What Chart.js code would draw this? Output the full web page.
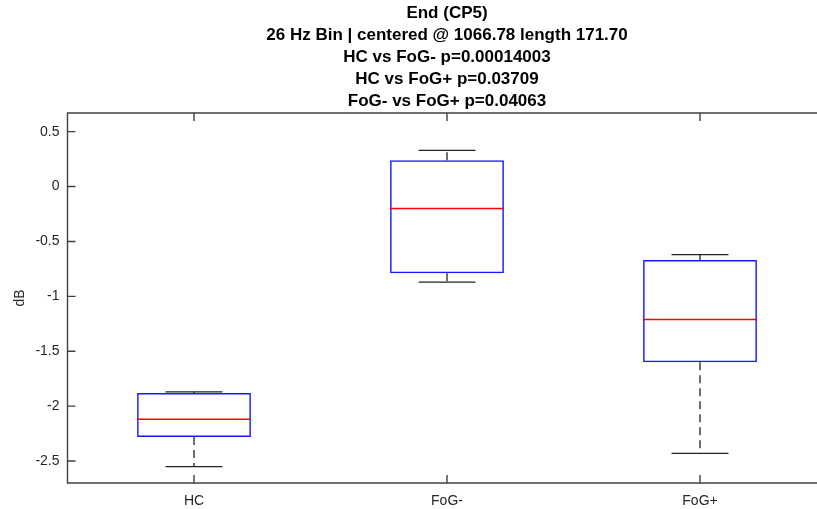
<!DOCTYPE html>
<html>
<head>
<meta charset="utf-8">
<script src="https://cdn.jsdelivr.net/npm/chart.js@4.4.1/dist/chart.umd.min.js"></script>
<style>
  html, body { margin: 0; padding: 0; background: #fff; overflow: hidden; }
  #wrap { width: 894px; height: 509px; }
</style>
</head>
<body>
<div id="wrap"><canvas id="box"></canvas></div>
<script>
const categories = ["HC", "FoG-", "FoG+"];
const q1 = [-2.28, -0.79, -1.60];
const q3 = [-1.88, 0.24, -0.67];
const medians = [-2.12, -0.20, -1.21];
const whiskerLow = [-2.55, -0.87, -2.43];
const whiskerHigh = [-1.87, 0.33, -0.62];
const yTicks = [-2.5, -2, -1.5, -1, -0.5, 0, 0.5];
const titleLines = [
  "End (CP5)",
  "26 Hz Bin | centered @ 1066.78 length 171.70",
  "HC vs FoG- p=0.00014003",
  "HC vs FoG+ p=0.03709",
  "FoG- vs FoG+ p=0.04063"
];

const axisColor = "#262626";
const fontFamily = "'Liberation Sans', Arial, sans-serif";

// whiskers, caps and medians drawn through the chart scales
const boxParts = {
  id: "boxParts",
  afterDatasetsDraw(chart) {
    const ctx = chart.ctx;
    const x = chart.scales.x, y = chart.scales.y;
    const meta = chart.getDatasetMeta(0);
    ctx.save();
    categories.forEach((c, i) => {
      const cx = x.getPixelForValue(i);
      const w = meta.data[i].width;
      // whiskers
      ctx.lineWidth = 1.3;
      ctx.strokeStyle = "#222";
      ctx.setLineDash([8, 5]);
      ctx.beginPath();
      ctx.moveTo(cx, y.getPixelForValue(q3[i]));
      ctx.lineTo(cx, y.getPixelForValue(whiskerHigh[i]));
      ctx.moveTo(cx, y.getPixelForValue(q1[i]));
      ctx.lineTo(cx, y.getPixelForValue(whiskerLow[i]));
      ctx.stroke();
      // caps
      ctx.setLineDash([]);
      ctx.beginPath();
      [whiskerHigh[i], whiskerLow[i]].forEach(v => {
        const py = y.getPixelForValue(v);
        ctx.moveTo(cx - w / 4, py);
        ctx.lineTo(cx + w / 4, py);
      });
      ctx.stroke();
      // median
      ctx.lineWidth = 1.5;
      ctx.strokeStyle = "#ff0000";
      ctx.beginPath();
      const my = y.getPixelForValue(medians[i]);
      ctx.moveTo(cx - w / 2, my);
      ctx.lineTo(cx + w / 2, my);
      ctx.stroke();
    });
    ctx.restore();
  }
};

// matlab style box with inward ticks
const frame = {
  id: "frame",
  afterDraw(chart) {
    const ctx = chart.ctx;
    const a = chart.chartArea;
    const x = chart.scales.x, y = chart.scales.y;
    const tl = 8;
    ctx.save();
    ctx.strokeStyle = "#404040";
    ctx.lineWidth = 1.4;
    ctx.beginPath();
    ctx.rect(a.left, a.top, a.right - a.left, a.bottom - a.top);
    y.ticks.forEach(t => {
      const py = y.getPixelForValue(t.value);
      ctx.moveTo(a.left, py); ctx.lineTo(a.left + tl, py);
      ctx.moveTo(a.right, py); ctx.lineTo(a.right - tl, py);
    });
    categories.forEach((c, i) => {
      const px = x.getPixelForValue(i);
      ctx.moveTo(px, a.bottom); ctx.lineTo(px, a.bottom - tl);
      ctx.moveTo(px, a.top); ctx.lineTo(px, a.top + tl);
    });
    ctx.stroke();
    ctx.restore();
  }
};

new Chart(document.getElementById("box"), {
  type: "bar",
  data: {
    labels: categories,
    datasets: [{
      data: categories.map((c, i) => [q1[i], q3[i]]),
      backgroundColor: "rgba(0,0,0,0)",
      borderColor: "#1a1aff",
      borderWidth: 1.5,
      borderSkipped: false,
      categoryPercentage: 1,
      barPercentage: 0.45
    }]
  },
  options: {
    responsive: true,
    maintainAspectRatio: false,
    animation: false,
    layout: { padding: 0 },
    plugins: {
      legend: { display: false },
      tooltip: { enabled: false },
      title: {
        display: true,
        text: titleLines,
        color: "#000",
        font: { family: fontFamily, size: 17, weight: "bold", lineHeight: 22 / 17 },
        padding: { top: 2, bottom: 1 }
      }
    },
    scales: {
      x: {
        offset: true,
        grid: { display: false, drawTicks: false },
        border: { display: false },
        ticks: { color: axisColor, font: { family: fontFamily, size: 14 }, padding: 10 },
        afterFit(scale) { scale.height = 26; }
      },
      y: {
        min: -2.7,
        max: 0.67,
        grid: { display: false, drawTicks: false },
        border: { display: false },
        afterBuildTicks(scale) { scale.ticks = yTicks.map(v => ({ value: v })); },
        ticks: {
          color: axisColor,
          font: { family: fontFamily, size: 14 },
          padding: 8,
          callback: v => String(v)
        },
        title: {
          display: true,
          text: "dB",
          color: axisColor,
          font: { family: fontFamily, size: 14 },
          padding: { top: 12, bottom: 0 }
        },
        afterFit(scale) { scale.width = 67.5; }
      },
      // empty right axis keeps the plot symmetric like the matlab figure
      y2: {
        position: "right",
        grid: { display: false, drawTicks: false },
        border: { display: false },
        ticks: { display: false },
        afterFit(scale) { scale.width = 67.5; }
      }
    }
  },
  plugins: [boxParts, frame]
});
</script>
</body>
</html>
